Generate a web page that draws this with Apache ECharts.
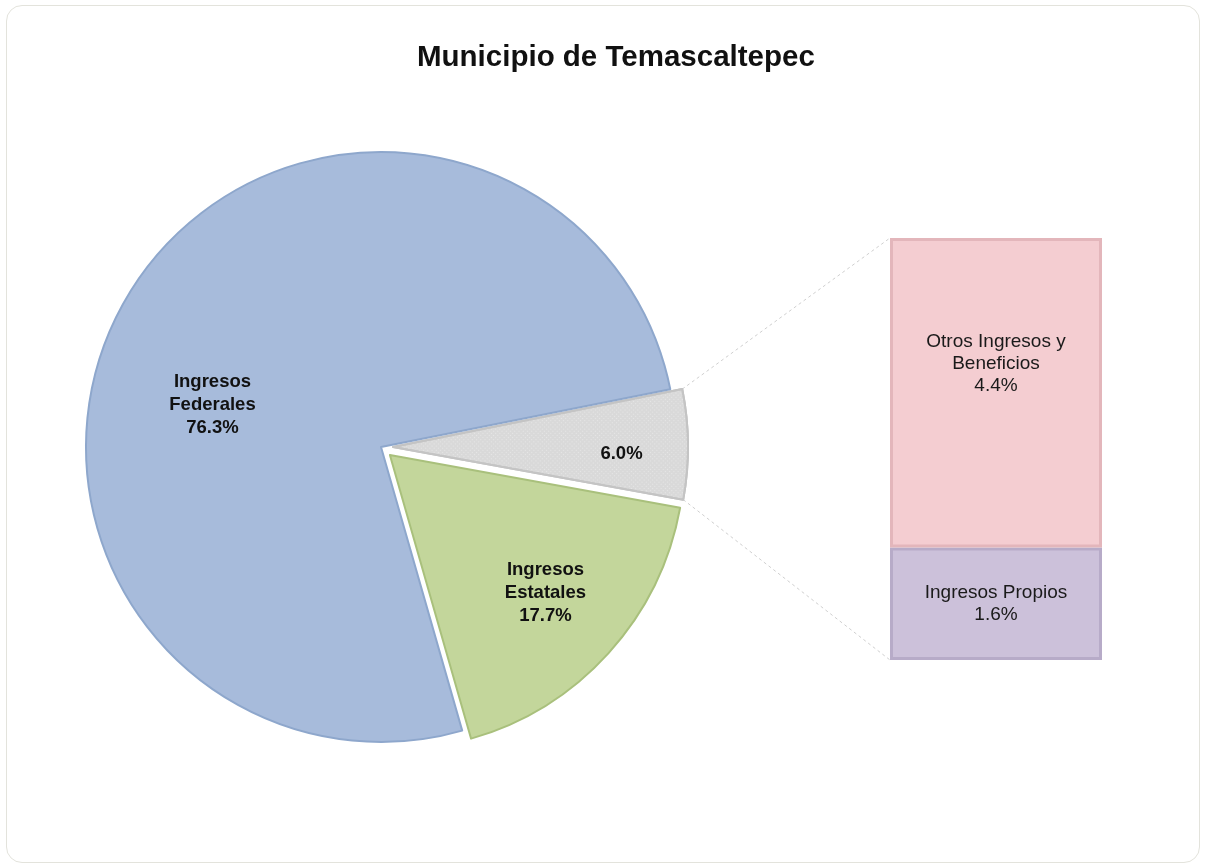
<!DOCTYPE html>
<html>
<head>
<meta charset="utf-8">
<script src="https://cdn.jsdelivr.net/npm/echarts@6/dist/echarts.min.js"></script>
<style>
html,body{margin:0;padding:0;background:#fff;}
#frame{position:absolute;left:6px;top:5px;width:1194px;height:858px;border:1px solid #e3e3dc;border-radius:16px;box-sizing:border-box;}
#main{position:absolute;left:0;top:0;width:1207px;height:867px;}
</style>
</head>
<body>
<div id="frame"></div>
<div id="main"></div>
<script>
// ---- data ----
const titleText = 'Municipio de Temascaltepec';
const pieNames = ['Otros', 'Ingresos\nEstatales', 'Ingresos\nFederales'];
const pieValues = [6.0, 17.7, 76.3];
const barNames = ['Ingresos Propios', 'Otros Ingresos y\nBeneficios'];
const barValues = [1.6, 4.4];

// ---- styles ----
const pieColors = ['#d9d9d9', '#c3d69b', '#a7bbdb'];
const pieBorders = ['#c4c4c4', '#a9c07c', '#8ea7cc'];
const pieLabelOffsets = [[78, 8], [44, 37], [-40, 36]];
const barColors = ['#ccc1da', '#f4cdd1'];
const barBorders = ['#b7abc8', '#e3b6bb'];

const CX = 381, CY = 447, R = 295, OFF = 12, START = 11.3;

const chart = echarts.init(document.getElementById('main'));

const pieData = pieNames.map((n, i) => ({
  name: n,
  value: pieValues[i],
  selected: i < 2,
  itemStyle: {
    color: pieColors[i],
    borderColor: pieBorders[i],
    borderWidth: 2,
    decal: i === 0 ? {symbol: 'rect', symbolSize: 1, dashArrayX: [1, 2], dashArrayY: [1, 2], rotation: Math.PI / 4, color: 'rgba(255,255,255,0.35)'} : undefined
  },
  label: {offset: pieLabelOffsets[i]},
  select: {label: {offset: pieLabelOffsets[i]}}
}));

const barSeries = barNames.map((n, i) => ({
  name: n,
  type: 'bar',
  stack: 'total',
  barWidth: '100%',
  data: [barValues[i]],
  itemStyle: {color: barColors[i], borderColor: barBorders[i], borderWidth: 3},
  label: {
    show: true,
    position: i === 1 ? 'insideTop' : 'inside',
    distance: i === 1 ? 93 : 5,
    color: '#1a1a1a',
    fontFamily: 'Liberation Sans, Arial, sans-serif',
    fontSize: 19,
    lineHeight: 22,
    formatter: () => n + '\n' + barValues[i].toFixed(1) + '%'
  },
  silent: true
}));

chart.setOption({
  animation: false,
  title: {
    text: titleText,
    left: 412,
    top: 38,
    textStyle: {fontFamily: 'Liberation Sans, Arial, sans-serif', fontSize: 29.5, fontWeight: 'bold', color: '#111'}
  },
  grid: {left: 890, top: 238, width: 212, height: 422},
  xAxis: {type: 'category', data: [''], show: false},
  yAxis: {type: 'value', min: 0, max: pieValues[0], show: false},
  series: [
    {
      type: 'pie',
      center: [CX, CY],
      radius: R,
      startAngle: START,
      clockwise: true,
      selectedMode: 'multiple',
      selectedOffset: OFF,
      avoidLabelOverlap: false,
      label: {
        show: true,
        position: 'inside',
        color: '#111',
        fontFamily: 'Liberation Sans, Arial, sans-serif',
        fontWeight: 'bold',
        fontSize: 18.5,
        lineHeight: 23,
        formatter: p => (p.dataIndex === 0 ? '' : p.name + '\n') + p.value.toFixed(1) + '%'
      },
      labelLine: {show: false},
      emphasis: {disabled: true},
      data: pieData
    },
    ...barSeries
  ]
});

// connector lines from the "Otros" slice to the bar
const a0 = START * Math.PI / 180;
const a1 = (START - pieValues[0] / 100 * 360) * Math.PI / 180;
const am = (a0 + a1) / 2;
const ox = CX + OFF * Math.cos(am), oy = CY - OFF * Math.sin(am);
const p0 = [ox + R * Math.cos(a0), oy - R * Math.sin(a0)];
const p1 = [ox + R * Math.cos(a1), oy - R * Math.sin(a1)];
const yTop = chart.convertToPixel({yAxisIndex: 0}, pieValues[0]);
const yBot = chart.convertToPixel({yAxisIndex: 0}, 0);
const xLeft = chart.convertToPixel({xAxisIndex: 0}, 0) - 106;
const dashed = {stroke: '#cfcfcf', lineWidth: 1, lineDash: [3, 3]};
chart.setOption({
  graphic: [
    {type: 'line', shape: {x1: p0[0], y1: p0[1], x2: xLeft, y2: yTop}, style: dashed, silent: true, z: -1},
    {type: 'line', shape: {x1: p1[0], y1: p1[1], x2: xLeft, y2: yBot}, style: dashed, silent: true, z: -1}
  ]
});
</script>
</body>
</html>
